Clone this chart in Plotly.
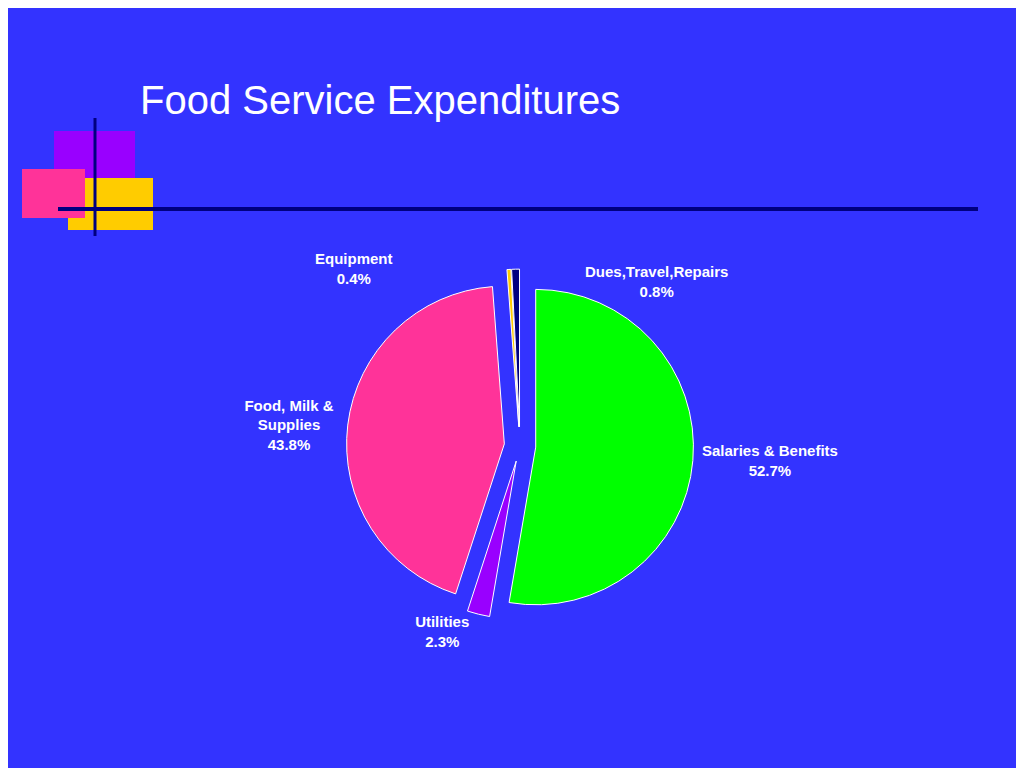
import plotly.graph_objects as go

labels = ["Salaries & Benefits", "Utilities", "Food, Milk &<br>Supplies", "Equipment", "Dues,Travel,Repairs"]
values = [52.7, 2.3, 43.8, 0.4, 0.8]
colors = ["#00FF00", "#9900FF", "#FF3399", "#FFCC00", "#000080"]
pulls = [0.1, 0.1, 0.1, 0.12, 0.12]

tmpl = ["<b>%{label}<br>%{value}%</b>"] * 3 + [""] * 2

fig = go.Figure(go.Pie(
    labels=labels, values=values, sort=False, direction="clockwise", rotation=0,
    marker=dict(colors=colors, line=dict(color="white", width=1)),
    pull=pulls, textposition="outside", texttemplate=tmpl,
    textfont=dict(color="white", size=15, family="Liberation Sans"),
    domain=dict(x=[0.1, 0.9], y=[0.2, 0.66]), showlegend=False,
    hoverinfo="skip"))

bg = "#3333FF"
shapes = [
    dict(type="rect", xref="paper", yref="paper", x0=46/1024, x1=127/1024, y0=1-190/768, y1=1-123/768, fillcolor="#9900FF", line_width=0, layer="below"),
    dict(type="rect", xref="paper", yref="paper", x0=60/1024, x1=145/1024, y0=1-222/768, y1=1-170/768, fillcolor="#FFCC00", line_width=0, layer="below"),
    dict(type="rect", xref="paper", yref="paper", x0=14/1024, x1=77/1024, y0=1-210/768, y1=1-161/768, fillcolor="#FF3399", line_width=0, layer="below"),
    dict(type="line", xref="paper", yref="paper", x0=50/1024, x1=970/1024, y0=1-201/768, y1=1-201/768, line=dict(color="#000080", width=4)),
    dict(type="line", xref="paper", yref="paper", x0=87/1024, x1=87/1024, y0=1-110/768, y1=1-228/768, line=dict(color="#000080", width=3)),
]

lab_font = dict(size=15, color="white", family="Liberation Sans")
annotations = [
    dict(text="Food Service Expenditures", xref="paper", yref="paper",
         x=130/1024, y=1-92/768, xanchor="left", yanchor="middle", showarrow=False,
         font=dict(size=40, color="white", family="Liberation Sans")),
    dict(text=f"<b>{labels[3]}<br>{values[3]}%</b>", xref="paper", yref="paper",
         x=305/1024, y=1-260/768, showarrow=False, font=lab_font),
    dict(text=f"<b>{labels[4]}<br>{values[4]}%</b>", xref="paper", yref="paper",
         x=648/1024, y=1-273/768, showarrow=False, font=lab_font),
]

fig.update_layout(
    width=1024, height=768, margin=dict(l=0, r=0, t=0, b=0, autoexpand=False),
    paper_bgcolor=bg, plot_bgcolor=bg, shapes=shapes, annotations=annotations)
fig.write_html("out.html")
